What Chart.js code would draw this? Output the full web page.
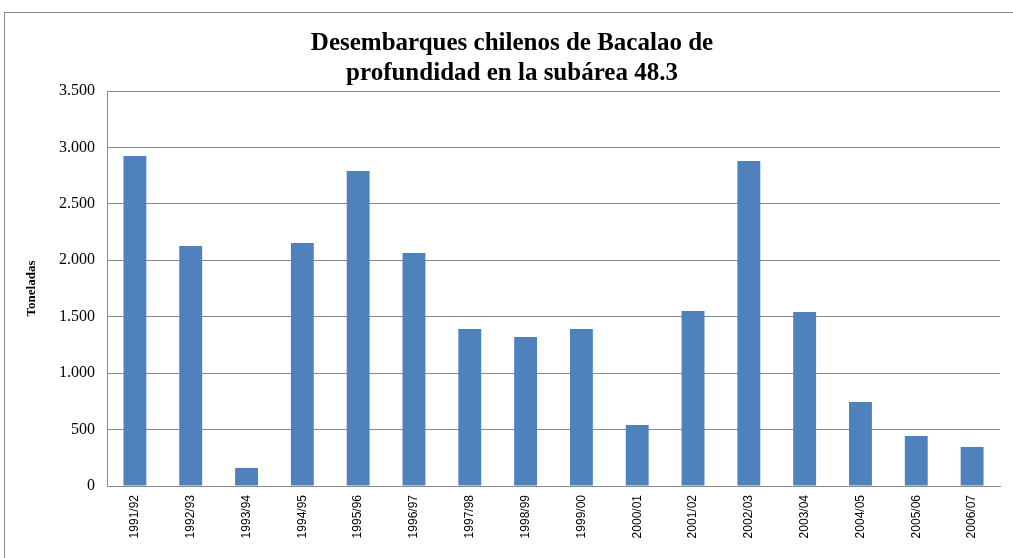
<!DOCTYPE html>
<html>
<head>
<meta charset="utf-8">
<script src="https://cdn.jsdelivr.net/npm/chart.js@4"></script>
<style>
  html, body { margin: 0; padding: 0; background: #fff; }
  #wrap { position: relative; width: 1013px; height: 558px; overflow: hidden; }
  #frame { position: absolute; left: 4px; top: 12px; width: 1020px; height: 560px; border: 1.5px solid #8a8a8a; box-sizing: border-box; pointer-events: none; }
  canvas { position: absolute; left: 0; top: 0; }
</style>
</head>
<body>
<div id="wrap">
  <canvas id="bacalaoChart" width="1013" height="558"></canvas>
  <div id="frame"></div>
</div>
<script>
// Temporadas y desembarques (toneladas)
const seasons = ['1991/92', '1992/93', '1993/94', '1994/95', '1995/96', '1996/97', '1997/98', '1998/99',
                 '1999/00', '2000/01', '2001/02', '2002/03', '2003/04', '2004/05', '2005/06', '2006/07'];
const landings = [2925, 2127, 160, 2153, 2791, 2065, 1391, 1320, 1391, 540, 1551, 2880, 1542, 744, 443, 346];

const titleLines = ['Desembarques chilenos de Bacalao de', 'profundidad en la subárea 48.3'];
const yTitle = 'Toneladas';

// 3500 -> "3.500"
const fmt = v => String(v).replace(/\B(?=(\d{3})+(?!\d))/g, '.');

new Chart(document.getElementById('bacalaoChart').getContext('2d'), {
    type: 'bar',
    data: {
        labels: seasons,
        datasets: [{
            data: landings,
            backgroundColor: '#4F81BD',
            categoryPercentage: 1,
            barPercentage: 0.41,
        }]
    },
    options: {
        responsive: false,
        animation: false,
        layout: { padding: { left: 24, right: 13, top: 0, bottom: 0 } },
        plugins: {
            legend: { display: false },
            tooltip: { enabled: false },
            title: {
                display: true,
                text: titleLines,
                color: '#000',
                font: { family: '"Liberation Serif", "Times New Roman", serif', size: 25, weight: 'bold', lineHeight: 1.2 },
                padding: { top: 29, bottom: 2 },
            },
        },
        scales: {
            x: {
                grid: { display: false, drawTicks: false },
                border: { color: '#8a8a8a', width: 1 },
                ticks: {
                    color: '#000',
                    minRotation: 90,
                    maxRotation: 90,
                    padding: 9,
                    font: { family: '"Liberation Sans", Arial, sans-serif', size: 12 },
                },
                afterFit: scale => { scale.height = 72; },
            },
            y: {
                min: 0,
                max: 3500,
                grid: { color: '#8a8a8a', drawTicks: false },
                border: { color: '#8a8a8a', width: 1 },
                ticks: {
                    stepSize: 500,
                    color: '#000',
                    padding: 12,
                    font: { family: '"Liberation Serif", "Times New Roman", serif', size: 16 },
                    callback: v => fmt(v),
                },
                title: {
                    display: true,
                    text: yTitle,
                    color: '#000',
                    padding: 0,
                    font: { family: '"Liberation Serif", "Times New Roman", serif', size: 13, weight: 'bold' },
                },
                afterFit: scale => { scale.width = 83; },
            },
        },
    },
});
</script>
</body>
</html>
